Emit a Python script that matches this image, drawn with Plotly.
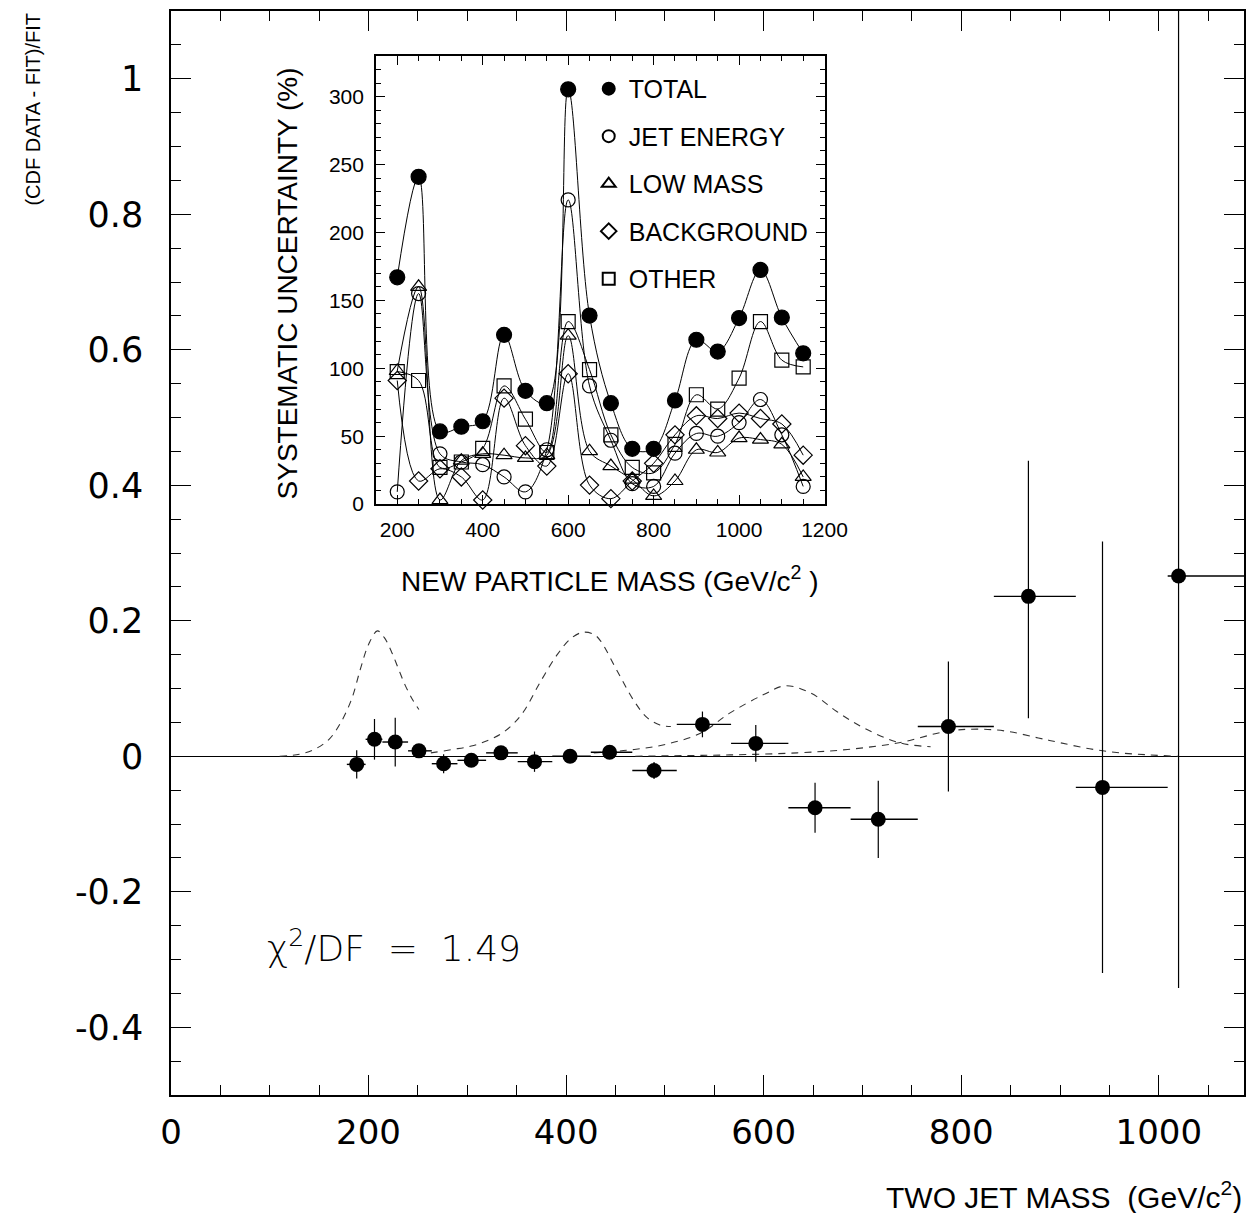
import plotly.graph_objects as go

# ---------------- main plot data ----------------
mass = [188, 206, 227, 251, 276, 304, 334, 368, 404, 444, 489, 538, 592, 652, 716, 787, 868, 943, 1020]
bin_lo = [178, 197, 214, 240, 264, 290, 319, 351, 386, 425, 467, 512, 567, 625, 688, 756, 833, 916, 1009]
bin_hi = [197, 214, 240, 264, 290, 319, 351, 386, 425, 467, 512, 567, 625, 688, 756, 833, 916, 1009, 1115]
ratio = [-0.012, 0.025, 0.021, 0.008, -0.011, -0.006, 0.005, -0.008, 0.0, 0.006, -0.021,
         0.047, 0.019, -0.076, -0.093, 0.044, 0.236, -0.046, 0.266]
err_up = [0.021, 0.030, 0.036, 0.010, 0.014, 0.008, 0.008, 0.015, 0.006, 0.006, 0.0125,
          0.019, 0.027, 0.037, 0.057, 0.096, 0.200, 0.363, 0.85]
err_dn = [0.021, 0.030, 0.036, 0.010, 0.014, 0.008, 0.008, 0.015, 0.006, 0.006, 0.0125,
          0.019, 0.027, 0.037, 0.057, 0.096, 0.180, 0.274, 0.608]

# dashed signal line shapes
sigA_x = [110, 130, 145, 160, 172, 183, 192, 200, 209, 216, 223, 230, 237, 244, 251]
sigA_y = [0.0, 0.003, 0.01, 0.025, 0.05, 0.085, 0.13, 0.165, 0.185, 0.175, 0.155, 0.13, 0.105, 0.085, 0.069]
sigB_x = [250, 263, 285, 304, 320, 334, 346, 357, 374, 391, 405, 417, 428, 435, 452, 469, 482, 495, 506]
sigB_y = [0.003, 0.005, 0.010, 0.015, 0.023, 0.033, 0.047, 0.066, 0.110, 0.150, 0.174, 0.183, 0.180, 0.170, 0.125, 0.081, 0.057, 0.046, 0.044]
sigC_x = [428, 469, 502, 536, 566, 600, 622, 648, 674, 701, 737, 769]
sigC_y = [0.005, 0.010, 0.018, 0.034, 0.064, 0.091, 0.104, 0.093, 0.066, 0.042, 0.020, 0.014]
sigD_x = [470, 520, 566, 634, 685, 737, 786, 816, 846, 878, 900, 930, 960, 990, 1020]
sigD_y = [0.0, 0.001, 0.002, 0.005, 0.010, 0.020, 0.037, 0.040, 0.037, 0.027, 0.020, 0.011, 0.005, 0.002, 0.0]

# ---------------- inset data ----------------
new_mass = [200, 250, 300, 350, 400, 450, 500, 550, 600, 650, 700, 750, 800, 850, 900, 950, 1000, 1050, 1100, 1150]
total = [167, 241, 53.5, 57, 61, 124.6, 83.4, 74.3, 305.4, 138.8, 74.3, 40.7, 40.7, 76.3, 121, 112.3, 137, 172.4, 137.4, 111]
jet_energy = [9, 155, 37, 31, 29, 20, 9, 40, 224, 87, 47, 15, 13, 37.5, 52, 50, 60, 77, 51, 13]
low_mass = [98, 160, 3, 32, 37, 36, 34, 36, 124, 39, 28, 18, 6, 17, 40, 38, 48.6, 47.5, 44, 20]
background = [91, 17, 26, 20, 3, 78, 43, 28, 96, 14, 4, 17, 30, 51, 65, 63, 67, 63, 59, 36]
other = [97.6, 91, 27, 31, 41, 87, 62.5, 38, 134.4, 99, 51, 27, 23, 44, 80.5, 70, 92.7, 134.4, 106, 101]

series_names = ["TOTAL", "JET ENERGY", "LOW MASS", "BACKGROUND", "OTHER"]
series_symbols = ["circle", "circle-open", "triangle-up-open", "diamond-open", "square-open"]

main_xticks = [0, 200, 400, 600, 800, 1000]
main_yticks = [-0.4, -0.2, 0, 0.2, 0.4, 0.6, 0.8, 1]
main_yticktext = ["-0.4", "-0.2", "0", "0.2", "0.4", "0.6", "0.8", "1"]
inset_xticks = [200, 400, 600, 800, 1000, 1200]
inset_yticks = [0, 50, 100, 150, 200, 250, 300]

# ---------------- figure geometry ----------------
# the photographed picture is slightly compressed horizontally relative to CSS px
KX, BX = 0.9806, 2.3
OFF = 8  # body margin
W, H = 1260, 1205
ML, MR, MT, MB = 163, 2, 1, 118
PW, PH = W - ML - MR, H - MT - MB
XMAX = PW / (0.9885 / KX)  # keep the reference's horizontal scale (0.9885 picture px per GeV)


def px(img_x):
    page = (img_x - BX) / KX
    return (page - OFF - ML) / PW


def py(img_y):
    return (H - MB - (img_y - OFF)) / PH


fig = go.Figure()
dash_style = dict(color="#333", width=1.1, dash="7px,6px")
for sx, sy in [(sigA_x, sigA_y), (sigB_x, sigB_y), (sigC_x, sigC_y), (sigD_x, sigD_y)]:
    fig.add_trace(go.Scatter(x=sx, y=sy, mode="lines", line=dict(shape="spline", smoothing=1, **dash_style),
                             showlegend=False, hoverinfo="skip", xaxis="x", yaxis="y"))

fig.add_trace(go.Scatter(
    x=mass, y=ratio, mode="markers",
    marker=dict(symbol="circle", size=15, color="black"),
    error_y=dict(type="data", array=err_up, arrayminus=err_dn, symmetric=False, width=0, thickness=1.2, color="black"),
    error_x=dict(type="data", array=[h - m for h, m in zip(bin_hi, mass)],
                 arrayminus=[m - l for m, l in zip(mass, bin_lo)], symmetric=False, width=0, thickness=1.4, color="black"),
    showlegend=False, xaxis="x", yaxis="y", cliponaxis=True))

inset_series = [total, jet_energy, low_mass, background, other]
for name, sym, vals in zip(series_names, series_symbols, inset_series):
    fig.add_trace(go.Scatter(
        x=new_mass, y=vals, mode="lines+markers",
        line=dict(shape="spline", smoothing=1, color="black", width=1),
        marker=dict(symbol=sym, size=14 if sym != "circle" else 15, color="black",
                    line=dict(color="black", width=1.2)),
        showlegend=False, xaxis="x2", yaxis="y2", cliponaxis=False))

# legend entries (markers only)
for name, sym in zip(series_names, series_symbols):
    fig.add_trace(go.Scatter(
        x=[None], y=[None], mode="markers", name=name, legendgroup=name,
        marker=dict(symbol=sym, size=16, color="black", line=dict(color="black", width=1.4)),
        xaxis="x2", yaxis="y2"))

axis_common = dict(showline=True, linecolor="black", linewidth=1.5, mirror="ticks",
                   ticks="inside", tickcolor="black", showgrid=False)

fig.update_layout(
    width=W, height=H, autosize=False,
    margin=dict(l=ML, r=MR, t=MT, b=MB),
    paper_bgcolor="white", plot_bgcolor="white",
    font=dict(family="Liberation Sans, Arial, sans-serif", color="black"),
    xaxis=dict(range=[0, XMAX], tickmode="array", tickvals=main_xticks, ticklen=20, tickwidth=1.2,
               minor=dict(dtick=50, tick0=0, ticklen=10, ticks="inside", tickcolor="black", tickwidth=1),
               tickfont=dict(family="DejaVu Sans", size=34), ticklabelstandoff=6,
               zeroline=False, **axis_common),
    yaxis=dict(range=[-0.5, 1.1], tickmode="array", tickvals=main_yticks, ticktext=main_yticktext,
               ticklen=20, tickwidth=1.2,
               minor=dict(dtick=0.05, tick0=0, ticklen=10, ticks="inside", tickcolor="black", tickwidth=1),
               tickfont=dict(family="DejaVu Sans", size=35), ticklabelstandoff=19,
               zeroline=True, zerolinecolor="black", zerolinewidth=1.3, **axis_common),
    xaxis2=dict(domain=[px(375), px(824)], anchor="y2", range=[150, 1200], tickmode="array",
                tickvals=inset_xticks, ticklen=9, tickwidth=1,
                minor=dict(dtick=50, tick0=0, ticklen=5, ticks="inside", tickcolor="black", tickwidth=1),
                tickfont=dict(size=21), ticklabelstandoff=6, zeroline=False,
                **{**axis_common, "linewidth": 1.5}),
    yaxis2=dict(domain=[py(503), py(54)], anchor="x2", range=[0, 330], tickmode="array",
                tickvals=inset_yticks, ticklen=9, tickwidth=1,
                minor=dict(dtick=10, tick0=0, ticklen=5, ticks="inside", tickcolor="black", tickwidth=1),
                tickfont=dict(size=21), ticklabelstandoff=6, zeroline=False,
                **{**axis_common, "linewidth": 1.5}),
    legend=dict(x=px(588), y=py(64), xanchor="left", yanchor="top", bgcolor="rgba(0,0,0,0)",
                font=dict(size=25, family="Liberation Sans, Arial"), traceorder="grouped",
                tracegroupgap=12, itemsizing="constant"),
    annotations=[
        dict(text="TWO JET MASS  (GeV/c<sup>2</sup>)", xref="paper", yref="paper", x=px(1244), y=py(1195),
             xanchor="right", yanchor="middle", showarrow=False, font=dict(size=30)),
        dict(text="(CDF DATA - FIT)/FIT", xref="paper", yref="paper", x=px(31), y=py(9),
             xanchor="center", yanchor="top", textangle=-90, showarrow=False,
             font=dict(size=20, family="Liberation Sans Narrow, Liberation Sans, Arial")),
        dict(text="χ<sup>2</sup>/DF  =  1.49", xref="paper", yref="paper", x=px(264), y=py(946),
             xanchor="left", yanchor="middle", showarrow=False,
             font=dict(size=36, family="DejaVu Sans", weight=200)),
        dict(text="SYSTEMATIC UNCERTAINTY (%)", xref="paper", yref="paper", x=px(287), y=py(282),
             xanchor="center", yanchor="middle", textangle=-90, showarrow=False, font=dict(size=28)),
        dict(text="NEW PARTICLE MASS (GeV/c<sup>2</sup> )", xref="paper", yref="paper", x=px(609), y=py(578),
             xanchor="center", yanchor="middle", showarrow=False, font=dict(size=28)),
    ],
)

fig.write_html("out.html", config={"responsive": False})
